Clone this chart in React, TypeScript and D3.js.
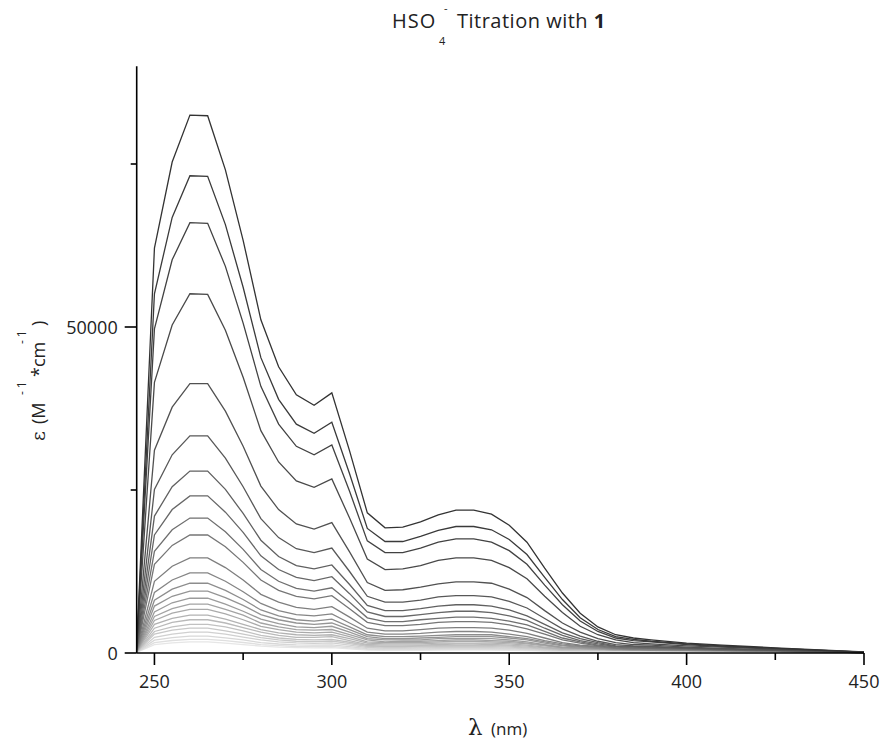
import React from "react";
import * as d3 from "d3";

// wavelength grid (nm)
const wavelengths = [245, 250, 255, 260, 265, 270, 275, 280, 285, 290, 295, 300, 305, 310, 315, 320, 325, 330, 335, 340, 345, 350, 355, 360, 365, 370, 375, 380, 385, 390, 400, 410, 425, 450];

// molar absorptivity, in units of 1000 M^-1 cm^-1, one array per titration step
const eps00 = [1.0, 62.1, 75.3, 82.5, 82.4, 74.1, 63.3, 51.1, 43.9, 39.6, 38.0, 39.9, 31.0, 21.5, 19.2, 19.3, 20.1, 21.2, 21.9, 21.9, 21.3, 19.6, 17.0, 13.0, 9.2, 6.1, 4.0, 2.8, 2.3, 2.0, 1.5, 1.2, 0.8, 0.15];
const eps01 = [0.9, 55.1, 66.8, 73.2, 73.1, 65.7, 56.1, 45.3, 38.9, 35.1, 33.7, 35.4, 27.5, 19.1, 17.1, 17.1, 17.9, 18.8, 19.4, 19.4, 18.9, 17.4, 15.1, 11.6, 8.2, 5.4, 3.6, 2.5, 2.1, 1.8, 1.4, 1.1, 0.7, 0.14];
const eps02 = [0.8, 49.7, 60.3, 66.0, 65.9, 59.3, 50.6, 40.9, 35.1, 31.7, 30.4, 31.9, 24.8, 17.2, 15.4, 15.4, 16.1, 17.0, 17.5, 17.5, 17.0, 15.7, 13.6, 10.4, 7.4, 4.9, 3.3, 2.3, 1.9, 1.7, 1.3, 1.0, 0.7, 0.13];
const eps03 = [0.7, 41.5, 50.3, 55.1, 55.0, 49.5, 42.3, 34.1, 29.3, 26.4, 25.4, 26.7, 20.7, 14.4, 12.8, 12.9, 13.4, 14.2, 14.6, 14.6, 14.2, 13.1, 11.4, 8.7, 6.2, 4.1, 2.8, 2.0, 1.6, 1.4, 1.1, 0.9, 0.6, 0.12];
const eps04 = [0.6, 31.1, 37.7, 41.3, 41.3, 37.1, 31.7, 25.6, 22.0, 19.8, 19.0, 20.0, 15.5, 10.8, 9.6, 9.7, 10.1, 10.6, 10.9, 10.9, 10.7, 9.8, 8.5, 6.5, 4.6, 3.2, 2.2, 1.6, 1.3, 1.2, 0.9, 0.7, 0.5, 0.1];
const eps05 = [0.5, 25.1, 30.4, 33.3, 33.3, 29.9, 25.5, 20.6, 17.7, 16.0, 15.4, 16.1, 12.5, 8.7, 7.8, 7.8, 8.1, 8.6, 8.8, 8.8, 8.6, 7.9, 6.9, 5.3, 3.7, 2.6, 1.8, 1.3, 1.1, 1.0, 0.8, 0.6, 0.4, 0.09];
const eps06 = [0.5, 21.0, 25.5, 27.9, 27.9, 25.1, 21.4, 17.3, 14.8, 13.4, 12.9, 13.5, 10.5, 7.3, 6.5, 6.5, 6.8, 7.2, 7.4, 7.4, 7.2, 6.6, 5.7, 4.4, 3.1, 2.2, 1.6, 1.1, 1.0, 0.9, 0.7, 0.6, 0.4, 0.08];
const eps07 = [0.4, 18.1, 22.0, 24.1, 24.1, 21.6, 18.5, 14.9, 12.8, 11.6, 11.1, 11.7, 9.1, 6.3, 5.6, 5.6, 5.9, 6.2, 6.4, 6.4, 6.2, 5.7, 5.0, 3.8, 2.7, 1.9, 1.4, 1.0, 0.9, 0.8, 0.7, 0.5, 0.4, 0.08];
const eps08 = [0.4, 15.6, 18.9, 20.7, 20.7, 18.6, 15.9, 12.8, 11.0, 9.9, 9.5, 10.0, 7.8, 5.4, 4.8, 4.8, 5.1, 5.3, 5.5, 5.5, 5.3, 4.9, 4.3, 3.3, 2.3, 1.7, 1.2, 0.9, 0.8, 0.7, 0.6, 0.5, 0.4, 0.08];
const eps09 = [0.3, 13.6, 16.5, 18.1, 18.1, 16.3, 13.9, 11.2, 9.6, 8.7, 8.3, 8.8, 6.8, 4.7, 4.2, 4.2, 4.4, 4.7, 4.8, 4.8, 4.7, 4.3, 3.7, 2.9, 2.0, 1.5, 1.1, 0.8, 0.7, 0.7, 0.6, 0.5, 0.3, 0.07];
const eps10 = [0.3, 11.0, 13.3, 14.6, 14.6, 13.1, 11.2, 9.0, 7.8, 7.0, 6.7, 7.1, 5.5, 3.8, 3.4, 3.4, 3.6, 3.8, 3.9, 3.9, 3.8, 3.5, 3.0, 2.3, 1.6, 1.2, 1.0, 0.7, 0.6, 0.6, 0.5, 0.4, 0.3, 0.07];
const eps11 = [0.3, 9.3, 11.2, 12.3, 12.3, 11.0, 9.4, 7.6, 6.5, 5.9, 5.7, 6.0, 4.6, 3.2, 2.9, 2.9, 3.0, 3.2, 3.3, 3.3, 3.2, 2.9, 2.5, 1.9, 1.4, 1.1, 0.9, 0.7, 0.6, 0.5, 0.5, 0.4, 0.3, 0.06];
const eps12 = [0.3, 8.1, 9.8, 10.7, 10.7, 9.6, 8.2, 6.6, 5.7, 5.1, 4.9, 5.2, 4.0, 2.8, 2.5, 2.5, 2.6, 2.7, 2.8, 2.8, 2.8, 2.5, 2.2, 1.7, 1.2, 1.0, 0.8, 0.6, 0.6, 0.5, 0.5, 0.4, 0.3, 0.06];
const eps13 = [0.2, 7.2, 8.7, 9.5, 9.5, 8.5, 7.3, 5.9, 5.1, 4.6, 4.4, 4.6, 3.6, 2.5, 2.2, 2.2, 2.3, 2.4, 2.5, 2.5, 2.5, 2.3, 2.0, 1.5, 1.1, 0.9, 0.7, 0.6, 0.5, 0.5, 0.4, 0.4, 0.3, 0.06];
const eps14 = [0.2, 6.3, 7.7, 8.4, 8.4, 7.5, 6.4, 5.2, 4.5, 4.0, 3.9, 4.1, 3.2, 2.2, 2.0, 2.0, 2.0, 2.2, 2.2, 2.2, 2.2, 2.0, 1.7, 1.3, 0.9, 0.8, 0.7, 0.6, 0.5, 0.5, 0.4, 0.35, 0.26, 0.06];
const eps15 = [0.2, 5.6, 6.8, 7.5, 7.5, 6.7, 5.8, 4.6, 4.0, 3.6, 3.5, 3.6, 2.8, 2.0, 1.7, 1.8, 1.8, 1.9, 2.0, 2.0, 1.9, 1.8, 1.5, 1.2, 0.8, 0.7, 0.6, 0.5, 0.5, 0.45, 0.4, 0.34, 0.25, 0.06];
const eps16 = [0.2, 5.0, 6.1, 6.7, 6.7, 6.0, 5.1, 4.1, 3.6, 3.2, 3.1, 3.2, 2.5, 1.7, 1.6, 1.6, 1.6, 1.7, 1.8, 1.8, 1.7, 1.6, 1.4, 1.1, 0.8, 0.7, 0.6, 0.5, 0.46, 0.44, 0.4, 0.33, 0.25, 0.06];
const eps17 = [0.2, 4.4, 5.3, 5.8, 5.8, 5.2, 4.4, 3.6, 3.1, 2.8, 2.7, 2.8, 2.2, 1.5, 1.4, 1.4, 1.4, 1.5, 1.5, 1.5, 1.5, 1.4, 1.2, 0.9, 0.65, 0.6, 0.56, 0.48, 0.44, 0.42, 0.38, 0.32, 0.24, 0.06];
const eps18 = [0.15, 3.8, 4.7, 5.1, 5.1, 4.6, 3.9, 3.2, 2.7, 2.4, 2.4, 2.5, 1.9, 1.3, 1.2, 1.2, 1.2, 1.3, 1.35, 1.35, 1.3, 1.2, 1.05, 0.8, 0.6, 0.57, 0.53, 0.46, 0.42, 0.41, 0.37, 0.31, 0.24, 0.06];
const eps19 = [0.15, 3.3, 4.0, 4.4, 4.4, 4.0, 3.4, 2.7, 2.3, 2.1, 2.0, 2.1, 1.65, 1.15, 1.0, 1.0, 1.07, 1.13, 1.17, 1.17, 1.14, 1.05, 0.9, 0.7, 0.5, 0.5, 0.48, 0.43, 0.41, 0.39, 0.36, 0.3, 0.23, 0.055];
const eps20 = [0.15, 2.9, 3.5, 3.8, 3.8, 3.4, 2.9, 2.35, 2.0, 1.8, 1.75, 1.84, 1.43, 1.0, 0.89, 0.89, 0.93, 0.98, 1.0, 1.0, 0.98, 0.9, 0.78, 0.6, 0.45, 0.42, 0.4, 0.4, 0.39, 0.38, 0.35, 0.29, 0.23, 0.055];
const eps21 = [0.1, 2.4, 2.9, 3.2, 3.2, 2.9, 2.45, 2.0, 1.7, 1.54, 1.48, 1.55, 1.2, 0.84, 0.75, 0.75, 0.78, 0.82, 0.85, 0.85, 0.83, 0.76, 0.66, 0.51, 0.4, 0.38, 0.37, 0.37, 0.37, 0.36, 0.34, 0.29, 0.22, 0.054];
const eps22 = [0.1, 1.96, 2.37, 2.6, 2.6, 2.33, 2.0, 1.6, 1.38, 1.25, 1.2, 1.26, 0.98, 0.68, 0.61, 0.61, 0.63, 0.67, 0.69, 0.69, 0.67, 0.62, 0.54, 0.42, 0.36, 0.35, 0.35, 0.35, 0.35, 0.35, 0.33, 0.28, 0.22, 0.053];
const eps23 = [0.1, 1.58, 1.92, 2.1, 2.1, 1.89, 1.61, 1.3, 1.12, 1.0, 0.97, 1.02, 0.79, 0.55, 0.49, 0.49, 0.51, 0.54, 0.56, 0.56, 0.54, 0.5, 0.43, 0.36, 0.33, 0.32, 0.32, 0.32, 0.32, 0.32, 0.32, 0.27, 0.21, 0.052];
const eps24 = [0.1, 1.28, 1.55, 1.7, 1.7, 1.53, 1.3, 1.05, 0.9, 0.82, 0.78, 0.82, 0.64, 0.44, 0.4, 0.4, 0.41, 0.44, 0.45, 0.45, 0.44, 0.4, 0.35, 0.3, 0.3, 0.3, 0.3, 0.3, 0.3, 0.3, 0.3, 0.26, 0.21, 0.05];

const spectra = [eps00, eps01, eps02, eps03, eps04, eps05, eps06, eps07, eps08, eps09, eps10, eps11, eps12, eps13, eps14, eps15, eps16, eps17, eps18, eps19, eps20, eps21, eps22, eps23, eps24];

// axes
const xMajorTicks = [250, 300, 350, 400, 450];
const xMinorTicks = [275, 325, 375, 425];
const yMajorTicks = [0, 50];
const yMajorLabels = ["0", "50000"];
const yMinorTicks = [25, 75];

const W = 884;
const H = 742;
const FONT = "'Open Sans', 'DejaVu Sans', sans-serif";
const SERIF = "'DejaVu Serif', 'Liberation Serif', serif";

export default function App() {
  const x = d3.scaleLinear().domain([245, 450]).range([136.7, 864]);
  const y = d3.scaleLinear().domain([0, 90]).range([653, 66.2]);
  const line = d3
    .line<[number, number]>()
    .x((d) => x(d[0]))
    .y((d) => y(d[1]));

  const n = spectra.length;
  const color = (i: number) =>
    d3.interpolateRgb("#333333", "#e6e6e6")(i / (n - 1));

  const order = d3.range(n).reverse();

  return (
    <svg
      width={W}
      height={H}
      viewBox={`0 0 ${W} ${H}`}
      style={{ position: "absolute", left: 0, top: 0, background: "#fff" }}
    >
      <rect x={0} y={0} width={W} height={H} fill="#fff" />
      {/* spectra */}
      <g fill="none" strokeWidth={1.3} strokeLinejoin="miter">
        {order.map((i) => (
          <path
            key={i}
            d={line(wavelengths.map((w, k) => [w, spectra[i][k]] as [number, number])) || ""}
            stroke={color(i)}
          />
        ))}
      </g>

      {/* axes */}
      <g stroke="#000" strokeWidth={1.6}>
        <line x1={x(245)} x2={x(450)} y1={y(0)} y2={y(0)} />
        {xMajorTicks.map((t) => (
          <line key={t} x1={x(t)} x2={x(t)} y1={y(0)} y2={y(0) + 12} />
        ))}
        {xMinorTicks.map((t) => (
          <line key={t} x1={x(t)} x2={x(t)} y1={y(0)} y2={y(0) + 7} />
        ))}
        <line x1={x(245)} x2={x(245)} y1={y(0)} y2={y(90)} />
        {yMajorTicks.map((t) => (
          <line key={t} x1={x(245) - 12} x2={x(245)} y1={y(t)} y2={y(t)} />
        ))}
        {yMinorTicks.map((t) => (
          <line key={t} x1={x(245) - 6} x2={x(245)} y1={y(t)} y2={y(t)} />
        ))}
      </g>

      <g fontFamily={FONT} fontSize={18} fill="#222">
        {xMajorTicks.map((t) => (
          <text key={t} x={x(t)} y={y(0) + 35} textAnchor="middle">
            {t}
          </text>
        ))}
        {yMajorTicks.map((t, i) => (
          <text key={t} x={x(245) - 19} y={y(t) + 6.5} textAnchor="end">
            {yMajorLabels[i]}
          </text>
        ))}
      </g>

      {/* title */}
      <text fontFamily={FONT} fontSize={20} fill="#222" y={28}>
        <tspan x={392} letterSpacing={1}>HSO</tspan>
        <tspan x={439} y={45} fontSize={11}>4</tspan>
        <tspan x={444} y={12} fontSize={11}>-</tspan>
        <tspan x={457} y={28} letterSpacing={0.5}>Titration with </tspan>
        <tspan fontWeight="bold">1</tspan>
      </text>

      {/* x label */}
      <text y={735} fill="#222">
        <tspan x={468} fontFamily={SERIF} fontSize={23}>λ</tspan>
        <tspan x={491} fontFamily={FONT} fontSize={17}>(nm)</tspan>
      </text>

      {/* y label */}
      <g transform="translate(45,441) rotate(-90)">
        <text fill="#222" fontFamily={FONT} fontSize={18}>
          <tspan x={0} fontFamily={SERIF} fontSize={19}>ε</tspan>
          <tspan x={17}>(M</tspan>
          <tspan x={46} dy={-19} fontSize={12} letterSpacing={3}>-1</tspan>
          <tspan x={64} dy={19}>*cm</tspan>
          <tspan x={97} dy={-19} fontSize={12} letterSpacing={3}>-1</tspan>
          <tspan x={115} dy={19}>)</tspan>
        </text>
      </g>
    </svg>
  );
}
